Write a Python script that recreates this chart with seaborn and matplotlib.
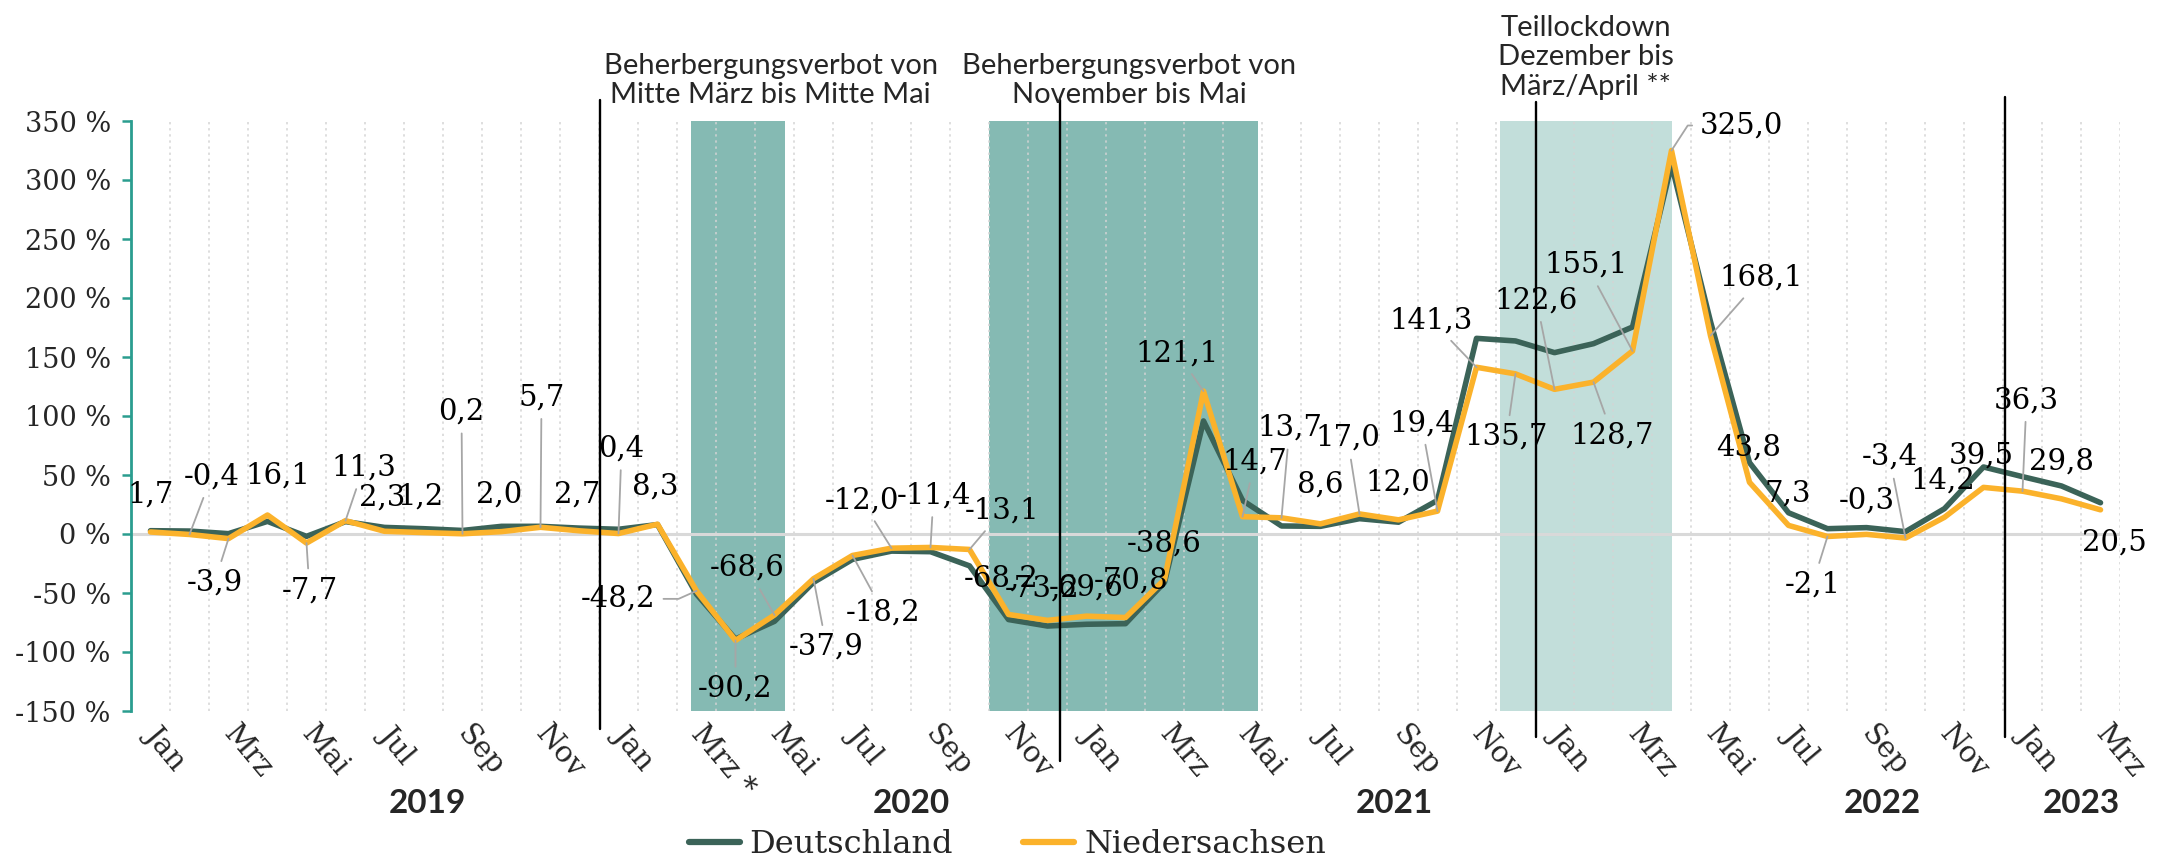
import numpy as np
import pandas as pd
import matplotlib
matplotlib.use("Agg")
import matplotlib.pyplot as plt
from matplotlib.lines import Line2D
import seaborn as sns

# ---------------- data ----------------
month_names = ["Jan", "Feb", "Mrz", "Apr", "Mai", "Jun", "Jul", "Aug", "Sep", "Okt", "Nov", "Dez"]
year_labels = ["2019", "2020", "2021", "2022", "2023"]

niedersachsen = [1.7, -0.4, -3.9, 16.1, -7.7, 11.3, 2.3, 1.2, 0.2, 2.0, 5.7, 2.7,
                 0.4, 8.3, -48.2, -90.2, -68.6, -37.9, -18.2, -12.0, -11.4, -13.1, -68.2, -73.2,
                 -69.6, -70.8, -38.6, 121.1, 14.7, 13.7, 8.6, 17.0, 12.0, 19.4, 141.3, 135.7,
                 122.6, 128.7, 155.1, 325.0, 168.1, 43.8, 7.3, -2.1, -0.3, -3.4, 14.2, 39.5,
                 36.3, 29.8, 20.5]
deutschland = [2.8, 2.5, 0.3, 10.7, -2.0, 10.5, 5.6, 4.5, 3.0, 6.5, 6.5, 5.0,
               4.0, 8.0, -51.0, -89.0, -74.0, -41.0, -21.5, -14.5, -15.0, -27.0, -72.5, -78.0,
               -76.5, -76.0, -41.0, 95.8, 28.5, 6.8, 6.5, 13.0, 10.0, 28.5, 165.8, 163.6,
               153.7, 161.3, 175.4, 313.0, 180.0, 60.5, 18.0, 4.5, 5.4, 2.0, 21.5, 56.8,
               48.6, 40.7, 26.5]

n = len(niedersachsen)
idx = np.arange(n)
tick_idx = list(range(0, n, 2))
tick_labels = [month_names[k % 12] for k in tick_idx]
tick_labels[7] = "Mrz *"

annotations = ["Beherbergungsverbot von\nMitte März bis Mitte Mai",
               "Beherbergungsverbot von\nNovember bis Mai",
               "Teillockdown\nDezember bis\nMärz/April **"]

# ---------------- layout (positions / styles) ----------------
label_offsets = [(0, 37), (22, 58), (-14, -44), (10, 39), (3, -47), (18, 53), (-2, 34), (-3, 36),
                 (-1, 122), (-2, 37), (1, 130), (-2, 36), (3, 85), (-2, 38), (-78, -8), (0, -48),
                 (-27, 47), (13, -68), (31, -57), (-30, 48), (3, 52), (33, 39), (-7, 36), (-5, 32),
                 (0, 29), (6, 37), (0, 36), (-26, 38), (12, 55), (8, 90), (0, 39), (-12, 76),
                 (-1, 37), (-16, 88), (-45, 47), (-9, -63), (-18, 89), (19, -53), (-46, 86), (70, 25),
                 (51, 58), (-1, 35), (-1, 32), (-15, -48), (0, 34), (-16, 81), (-2, 37), (-2, 32),
                 (4, 91), (0, 37), (14, -33)]
leader_idx = {1, 2, 4, 5, 8, 10, 12, 14, 15, 16, 17, 18, 19, 20, 21, 27, 28, 29, 31, 33,
              34, 35, 36, 37, 38, 39, 40, 43, 45, 48}
elbow = {14: "angle,angleA=0,angleB=24,rad=0", 39: "angle,angleA=0,angleB=57,rad=0"}

c_de = "#3B6358"
c_ni = "#FBB22B"
c_teal = "#2A9D8F"

sns.set_theme(style="white")
plt.rcParams['font.family'] = ['DejaVu Serif']

W, H = 2178, 865
fig = plt.figure(figsize=(W / 100, H / 100), dpi=100)
ax = fig.add_axes([131 / W, 154 / H, 1989 / W, 590 / H])

# shaded periods
ax.axvspan(13.87, 16.28, color="#85BAB3", lw=0, zorder=0)
ax.axvspan(21.5, 28.41, color="#85BAB3", lw=0, zorder=0)
ax.axvspan(34.59, 39.02, color="#C2DEDA", lw=0, zorder=0)

# vertical dotted grid at month boundaries
for b in np.arange(0.5, n, 1.0):
    ax.axvline(b, color="#D4D4D4", lw=1.1, ls=(0, (1.5, 2.5)), zorder=1)
ax.axhline(0, color="#D9D9D9", lw=2.2, zorder=1.5)

# data lines
df = pd.concat([
    pd.DataFrame({"Monat": idx, "Wert": deutschland, "Region": "Deutschland"}),
    pd.DataFrame({"Monat": idx, "Wert": niedersachsen, "Region": "Niedersachsen"}),
])
sns.lineplot(data=df, x="Monat", y="Wert", hue="Region",
             palette={"Deutschland": c_de, "Niedersachsen": c_ni},
             linewidth=4.0, legend=False, errorbar=None, ax=ax, zorder=3)

ax.set_xlim(-0.5, n - 0.5)
ax.set_ylim(-150, 350)

# year separators
for x, ytop, ybot in [(11.53, 368, -165), (23.33, 368, -192), (35.53, 366, -172), (47.55, 370, -172)]:
    ax.plot([x, x], [ytop, ybot], color="black", lw=1.7, clip_on=False, zorder=5)

# data labels
for k, v in enumerate(niedersachsen):
    txt = f"{v:.1f}".replace(".", ",")
    dx, dy = label_offsets[k]
    kw = dict(xy=(k, v), xytext=(dx, dy), textcoords="offset pixels", ha="center", va="center",
              fontsize=21, color="black", zorder=6, annotation_clip=False)
    if k in leader_idx:
        kw["arrowprops"] = dict(arrowstyle="-", color="#A6A6A6", lw=1.3, shrinkA=3, shrinkB=0,
                                connectionstyle=elbow.get(k, "arc3"))
        kw["bbox"] = dict(boxstyle="square,pad=0.12", fc="none", ec="none")
    ax.annotate(txt, **kw)

# axes styling
for s in ["top", "right", "bottom"]:
    ax.spines[s].set_visible(False)
ax.spines["left"].set_color(c_teal)
ax.spines["left"].set_linewidth(2)
yt = list(range(-150, 351, 50))
ax.set_yticks(yt)
ax.set_yticklabels([f"{t} %" for t in yt], fontsize=19.5)
ax.tick_params(axis="y", direction="out", length=6.5, width=1.8, color=c_teal, pad=8, left=True)
ax.set_xticks(tick_idx)
ax.set_xticklabels(tick_labels, fontsize=21, rotation=-50, ha="left", va="center",
                   rotation_mode="anchor")
ax.tick_params(axis="x", length=0, pad=13)
ax.set_xlabel("")
ax.set_ylabel("")
ax.grid(False)

# year labels
for x, lab in zip([7.1, 19.5, 31.9, 44.4, 49.5], year_labels):
    ax.text(x, -228, lab, ha="center", va="center", fontsize=24, fontweight="bold",
            family=["Lato", "DejaVu Sans"], clip_on=False)

# period annotations
for (x, y), lab in zip([(15.9, 384), (25.1, 384), (36.8, 404)], annotations):
    ax.text(x, y, lab, ha="center", va="center", fontsize=21, family=["Lato", "DejaVu Sans"],
            linespacing=1.15, clip_on=False, zorder=6)

# legend
handles = [Line2D([], [], color=c_de, lw=4.5), Line2D([], [], color=c_ni, lw=4.5)]
fig.legend(handles, ["Deutschland", "Niedersachsen"], loc="center", bbox_to_anchor=(0.4625, 0.024),
           ncol=2, frameon=False, fontsize=23, handlelength=1.6, columnspacing=2.2, handletextpad=0.3)

fig.savefig("out.png", dpi=100)
